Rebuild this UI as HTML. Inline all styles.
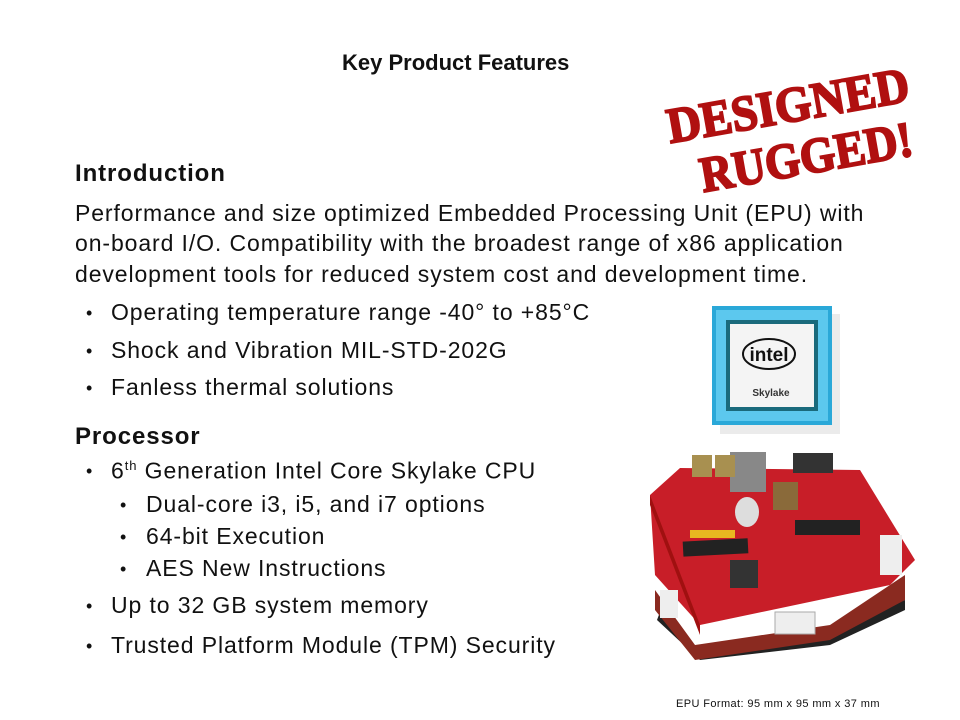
<!DOCTYPE html>
<html><head><meta charset="utf-8"><style>
body{margin:0;width:960px;height:720px;background:#fff;position:relative;overflow:hidden;font-family:"Liberation Sans",sans-serif;color:#111}
.t{position:absolute;white-space:nowrap;font-size:23px;line-height:1;letter-spacing:0.9px}
.b{font-weight:bold;font-size:24px}
.dot{position:absolute;font-size:18px}
</style></head><body>
<div class="t" style="left:342px;top:52px;font-size:22px;font-weight:bold;letter-spacing:0">Key Product Features</div>
<div class="t b" style="left:75px;top:162px">Introduction</div>
<div class="t" style="left:75px;top:202px">Performance and size optimized Embedded Processing Unit (EPU) with</div>
<div class="t" style="left:75px;top:232px">on-board I/O. Compatibility with the broadest range of x86 application</div>
<div class="t" style="left:75px;top:263px">development tools for reduced system cost and development time.</div>
<div class="dot" style="left:86px;top:303px">•</div><div class="t" style="left:111px;top:301px">Operating temperature range -40° to +85°C</div>
<div class="dot" style="left:86px;top:341px">•</div><div class="t" style="left:111px;top:339px">Shock and Vibration MIL-STD-202G</div>
<div class="dot" style="left:86px;top:378px">•</div><div class="t" style="left:111px;top:376px">Fanless thermal solutions</div>
<div class="t b" style="left:75px;top:425px">Processor</div>
<div class="dot" style="left:86px;top:461px">•</div><div class="t" style="left:111px;top:459px">6<sup style="font-size:13px">th</sup> Generation Intel Core Skylake CPU</div>
<div class="dot" style="left:120px;top:495px">•</div><div class="t" style="left:146px;top:493px">Dual-core i3, i5, and i7 options</div>
<div class="dot" style="left:120px;top:527px">•</div><div class="t" style="left:146px;top:525px">64-bit Execution</div>
<div class="dot" style="left:120px;top:559px">•</div><div class="t" style="left:146px;top:557px">AES New Instructions</div>
<div class="dot" style="left:86px;top:596px">•</div><div class="t" style="left:111px;top:594px">Up to 32 GB system memory</div>
<div class="dot" style="left:86px;top:636px">•</div><div class="t" style="left:111px;top:634px">Trusted Platform Module (TPM) Security</div>
<div class="t" style="left:676px;top:699px;font-size:11px;letter-spacing:0.4px">EPU Format: 95 mm x 95 mm x 37 mm</div>

<svg style="position:absolute;left:0;top:0" width="960" height="720">
<g transform="rotate(-10 790 120)" fill="#b01010" stroke="#b01010" stroke-width="2" font-family="Liberation Serif,serif" font-weight="bold">
<text x="668" y="122" font-size="50" textLength="245" lengthAdjust="spacingAndGlyphs">DESIGNED</text>
<text x="692" y="176" font-size="50" textLength="215" lengthAdjust="spacingAndGlyphs">RUGGED!</text>
</g>
<rect x="720" y="314" width="120" height="120" fill="#999" opacity="0.2"/>
<rect x="712" y="306" width="120" height="119" fill="#2aa8d8"/>
<rect x="716" y="310" width="112" height="111" fill="#5cc8ee"/>
<rect x="726" y="320" width="92" height="91" fill="#1a6a7c"/>
<rect x="730" y="324" width="84" height="83" fill="#f4f4f4"/>
<ellipse cx="769" cy="354" rx="26" ry="15" fill="none" stroke="#111" stroke-width="2"/>
<text x="769" y="361" text-anchor="middle" font-size="19" font-weight="bold" fill="#111">intel</text>
<text x="771" y="396" text-anchor="middle" font-size="10" font-weight="bold" fill="#333">Skylake</text>
<polygon points="657,620 700,660 830,645 905,610 905,600 830,630 700,650 660,612" fill="#222"/>
<polygon points="655,590 695,645 830,625 905,575 905,600 830,640 695,660 655,610" fill="#8a2a20"/>
<polygon points="650,495 680,468 860,470 915,560 890,585 700,625 655,575" fill="#c81e28"/>
<polygon points="650,495 700,625 700,635 650,505" fill="#a01010"/>
<rect x="683" y="540" width="65" height="15" fill="#222" transform="rotate(-3 715 547)"/>
<rect x="690" y="530" width="45" height="8" fill="#e8b820"/>
<rect x="795" y="520" width="65" height="15" fill="#222"/>
<rect x="730" y="452" width="36" height="40" fill="#888"/>
<rect x="793" y="453" width="40" height="20" fill="#333"/>
<rect x="773" y="482" width="25" height="28" fill="#8a6a3a"/>
<ellipse cx="747" cy="512" rx="12" ry="15" fill="#ddd"/>
<rect x="730" y="560" width="28" height="28" fill="#333"/>
<rect x="775" y="612" width="40" height="22" fill="#eee" stroke="#aaa"/>
<rect x="880" y="535" width="22" height="40" fill="#eee"/>
<rect x="660" y="590" width="18" height="28" fill="#eee"/>
<rect x="692" y="455" width="20" height="22" fill="#a89050"/>
<rect x="715" y="455" width="20" height="22" fill="#a89050"/>
</svg>
</body></html>
